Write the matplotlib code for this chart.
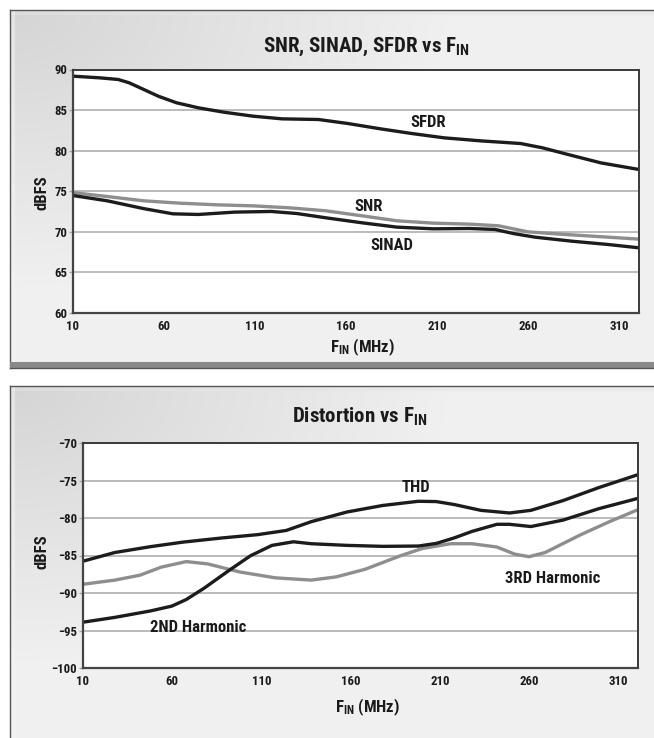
import numpy as np
import matplotlib
matplotlib.use("Agg")
import matplotlib.pyplot as plt
from matplotlib import font_manager
from matplotlib.patches import Rectangle

# ---------------- data ----------------
freq_sfdr = [10, 25, 35, 41, 49, 57, 67, 79, 93, 109, 125, 145, 161, 179, 196, 214, 234, 256, 268, 282, 300, 321]
sfdr = [89.18, 88.97, 88.77, 88.36, 87.54, 86.71, 85.9, 85.28, 84.74, 84.25, 83.92, 83.84, 83.35, 82.69,
        82.12, 81.58, 81.21, 80.88, 80.35, 79.53, 78.5, 77.68]

freq_snr = [10, 29, 49, 69, 89, 109, 129, 149, 169, 188, 208, 228, 244, 260, 278, 298, 321]
snr = [74.84, 74.35, 73.82, 73.53, 73.33, 73.2, 72.96, 72.59, 71.97, 71.36, 71.07, 70.95, 70.74, 70.0,
       69.71, 69.43, 69.1]

freq_sinad = [10, 29, 49, 65, 79, 99, 119, 133, 149, 169, 188, 208, 228, 242, 252, 264, 284, 304, 321]
sinad = [74.48, 73.82, 72.86, 72.22, 72.14, 72.43, 72.51, 72.26, 71.73, 71.11, 70.58, 70.37, 70.41,
         70.29, 69.79, 69.34, 68.85, 68.44, 68.03]

freq_thd = [10, 28, 48, 66, 88, 108, 124, 138, 158, 178, 198, 208, 218, 233, 249, 261, 279, 299, 321]
thd = [-85.77, -84.6, -83.82, -83.22, -82.66, -82.22, -81.66, -80.49, -79.2, -78.33, -77.77, -77.81,
       -78.2, -78.98, -79.33, -78.98, -77.68, -75.95, -74.22]

freq_h2 = [10, 28, 48, 60, 68, 78, 92, 104, 116, 128, 138, 158, 178, 198, 208, 218, 228, 242, 249,
           261, 279, 299, 321]
h2 = [-93.9, -93.25, -92.39, -91.74, -90.87, -89.36, -86.98, -85.03, -83.65, -83.17, -83.43, -83.65,
      -83.78, -83.74, -83.39, -82.66, -81.79, -80.84, -80.84, -81.14, -80.28, -78.76, -77.38]

freq_h3 = [10, 28, 42, 54, 68, 80, 98, 118, 138, 152, 168, 188, 200, 216, 228, 242, 252, 260, 269,
           289, 305, 321]
h3 = [-88.84, -88.28, -87.63, -86.55, -85.81, -86.12, -87.2, -87.98, -88.28, -87.85, -86.85, -85.03,
      -84.08, -83.43, -83.43, -83.87, -84.82, -85.16, -84.6, -82.22, -80.49, -78.89]

x_ticks = [10, 60, 110, 160, 210, 260, 310]
y_ticks_top = [60, 65, 70, 75, 80, 85, 90]
y_ticks_bot = [-100, -95, -90, -85, -80, -75, -70]

top_title = r"SNR, SINAD, SFDR vs F$_{\mathrm{IN}}$"
bot_title = r"Distortion vs F$_{\mathrm{IN}}$"
x_label = r"F$_{\mathrm{IN}}$ (MHz)"
y_label = "dBFS"

# ---------------- fonts ----------------
available = {f.name for f in font_manager.fontManager.ttflist}
font = "DejaVu Sans"
stretch = "normal"
for cand in ["Liberation Sans Narrow", "DejaVu Sans Condensed", "Roboto Condensed", "Open Sans Condensed"]:
    if cand in available:
        font = cand
        break
else:
    stretch = "condensed"

plt.rcParams["font.family"] = [font, "DejaVu Sans"]
plt.rcParams["font.weight"] = "bold"
plt.rcParams["mathtext.fontset"] = "custom"
plt.rcParams["mathtext.rm"] = f"{font}:bold"
plt.rcParams["mathtext.bf"] = f"{font}:bold"
plt.rcParams["mathtext.it"] = f"{font}:bold"

W, H = 654, 738
fig = plt.figure(figsize=(W / 100, H / 100), dpi=100)
fig.patch.set_facecolor("white")

# ---------------- background panels ----------------
bg = fig.add_axes([0, 0, 1, 1], zorder=-10)
bg.set_xlim(0, W)
bg.set_ylim(H, 0)
bg.axis("off")


def panel(y0, y1, bottom_border):
    xs = np.linspace(0, 1, 200)
    ys = np.linspace(0, 1, 120)
    X, Y = np.meshgrid(xs, ys)
    r = np.sqrt((X / 0.7) ** 2 + (Y / 0.8) ** 2)
    v = 0.835 + 0.11 * np.clip(r, 0, 1)
    img = np.dstack([v, v, v])
    bg.imshow(img, extent=(10, W + 2, y1, y0), aspect="auto", interpolation="bilinear", zorder=0)
    bg.add_patch(Rectangle((10, y0), W, 5, facecolor="#e4e4e4", edgecolor="none", alpha=0.5, zorder=1))
    bg.add_patch(Rectangle((10, y0), 5, y1 - y0, facecolor="#f4f4f4", edgecolor="none", alpha=0.5, zorder=1))
    bg.plot([10, W + 2], [y0, y0], color="#555555", lw=1.0, zorder=2)
    bg.plot([10, 10], [y0, y1], color="#555555", lw=1.0, zorder=2)
    if bottom_border:
        bg.add_patch(Rectangle((10, y1 - 6), W, 6, facecolor="#8a8a8a", edgecolor="none", zorder=2))
        bg.plot([10, W + 2], [y1, y1], color="#555555", lw=1.0, zorder=2)


panel(10, 368, True)
panel(386, H + 5, False)


# ---------------- chart axes ----------------
def style(ax, yticks, ylim):
    ax.set_facecolor("white")
    ax.set_xlim(10, 321)
    ax.set_ylim(*ylim)
    ax.set_xticks(x_ticks)
    ax.set_yticks(yticks)
    ax.grid(axis="y", color="#a8a8a8", lw=1.1)
    ax.set_axisbelow(True)
    for s in ["top", "right"]:
        ax.spines[s].set_color("#3a3a3a")
        ax.spines[s].set_linewidth(1.4)
    for s in ["left", "bottom"]:
        ax.spines[s].set_color("#444444")
        ax.spines[s].set_linewidth(1.6)
    ax.tick_params(axis="y", length=3, width=1, color="#a8a8a8", pad=1, labelsize=9.2)
    ax.tick_params(axis="x", length=0, pad=5, labelsize=9.2)
    for lab in ax.get_xticklabels() + ax.get_yticklabels():
        lab.set_fontweight("bold")
        lab.set_fontstretch(stretch)
        lab.set_color("#1a1a1a")


black = "#1c1c1c"
gray = "#8e8e8e"
lw = 2.4

ax1 = fig.add_axes([72.7 / W, 1 - 313 / H, (639 - 72.7) / W, (313 - 69.5) / H])
style(ax1, y_ticks_top, (60, 90))
ax1.plot(freq_sfdr, sfdr, color=black, lw=lw, solid_joinstyle="round")
ax1.plot(freq_snr, snr, color=gray, lw=lw, solid_joinstyle="round")
ax1.plot(freq_sinad, sinad, color=black, lw=lw, solid_joinstyle="round")
tk = dict(fontsize=12, fontweight="bold", color="#1a1a1a", ha="center", va="center", fontstretch=stretch)
ax1.text(205, 83.5, "SFDR", **tk)
ax1.text(172.5, 73.1, "SNR", **tk)
ax1.text(185, 68.3, "SINAD", **tk)

ax2 = fig.add_axes([82.7 / W, 1 - 668 / H, (638 - 82.7) / W, (668 - 443) / H])
style(ax2, y_ticks_bot, (-100, -70))
ax2.plot(freq_thd, thd, color=black, lw=lw, solid_joinstyle="round")
ax2.plot(freq_h3, h3, color=gray, lw=lw, solid_joinstyle="round")
ax2.plot(freq_h2, h2, color=black, lw=lw, solid_joinstyle="round")
ax2.text(196.5, -75.87, "THD", **tk)
ax2.text(74.8, -94.64, "2ND Harmonic", **tk)
ax2.text(273, -88.06, "3RD Harmonic", **tk)

# ---------------- texts ----------------
tt = dict(fontsize=15, fontweight="bold", color="#1a1a1a", ha="center", va="center", fontstretch=stretch)
fig.text(366 / W, 1 - 47 / H, top_title, **tt)
fig.text(360 / W, 1 - 417 / H, bot_title, **tt)
lt = dict(fontsize=12, fontweight="bold", color="#1a1a1a", ha="center", va="center", fontstretch=stretch)
fig.text(362 / W, 1 - 347 / H, x_label, **lt)
fig.text(367 / W, 1 - 707 / H, x_label, **lt)
fig.text(42 / W, 1 - 193 / H, y_label, rotation=90, **lt)
fig.text(42 / W, 1 - 552 / H, y_label, rotation=90, **lt)

fig.savefig("out.png", dpi=100, facecolor="white")
